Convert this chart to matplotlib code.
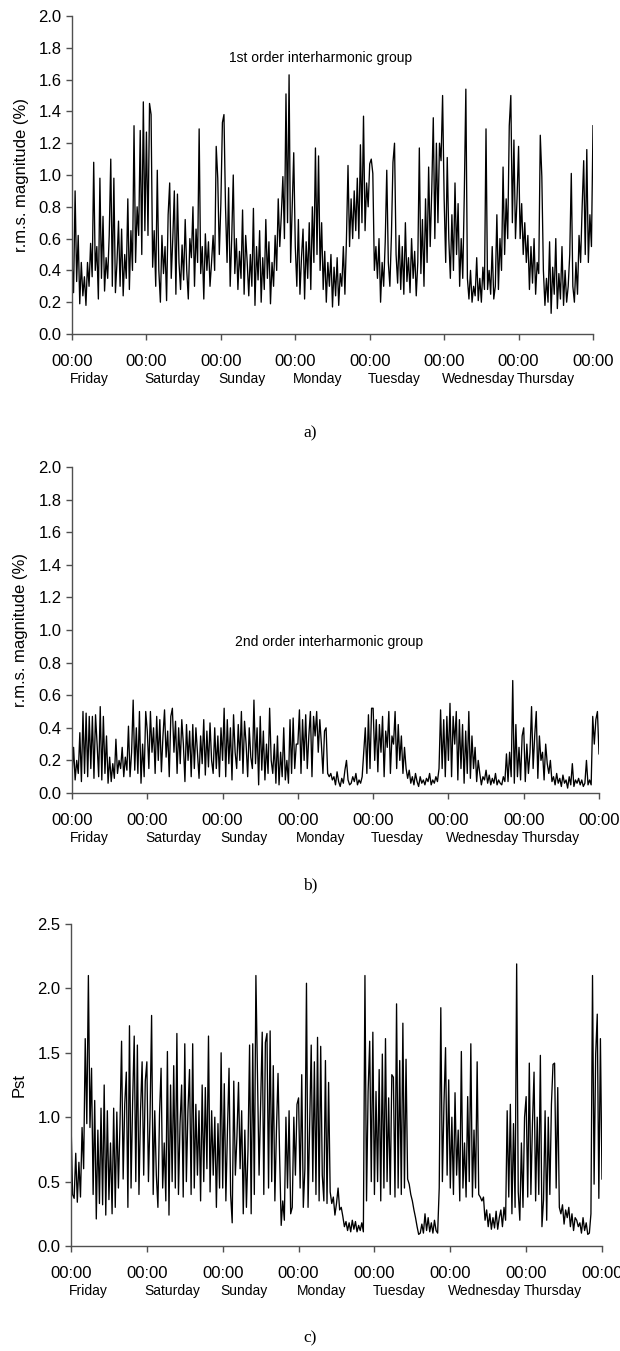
import numpy as np
import matplotlib
matplotlib.use("Agg")
import matplotlib.pyplot as plt

# ---------------- data ----------------
days = ["Friday", "Saturday", "Sunday", "Monday", "Tuesday", "Wednesday", "Thursday"]
tick_labels = ["00:00"] * 8

# 1st order interharmonic group, r.m.s. magnitude (%) (48 samples per day)
ih1 = [
    0.45, 0.26, 0.90, 0.33, 0.62, 0.19, 0.45, 0.24, 0.36, 0.18, 0.45, 0.30, 0.57, 0.36, 1.08, 0.40,
    0.55, 0.22, 0.98, 0.35, 0.74, 0.27, 0.48, 0.35, 0.62, 1.10, 0.30, 0.98, 0.26, 0.45, 0.71, 0.30,
    0.66, 0.24, 0.50, 0.35, 0.85, 0.28, 0.65, 0.40, 1.31, 0.45, 0.80, 0.62, 1.28, 0.50, 1.46, 0.65,
    1.27, 0.62, 1.45, 1.38, 0.42, 0.65, 0.30, 1.03, 0.40, 0.20, 0.62, 0.38, 0.55, 0.21, 0.75, 0.95,
    0.35, 0.60, 0.90, 0.25, 0.88, 0.45, 0.28, 0.56, 0.34, 0.72, 0.40, 0.22, 0.60, 0.48, 0.80, 0.30,
    0.66, 0.45, 1.29, 0.38, 0.55, 0.22, 0.63, 0.40, 0.58, 0.30, 0.45, 0.62, 0.40, 1.18, 0.98, 0.50,
    0.82, 1.33, 1.38, 0.80, 0.45, 0.92, 0.30, 0.60, 1.00, 0.38, 0.60, 0.28, 0.52, 0.35, 0.78, 0.25,
    0.62, 0.45, 0.24, 0.50, 0.30, 0.79, 0.18, 0.55, 0.34, 0.65, 0.20, 0.48, 0.28, 0.72, 0.35, 0.58,
    0.19, 0.45, 0.30, 0.62, 0.40, 0.85, 0.55, 0.75, 0.99, 0.60, 1.51, 0.70, 1.63, 0.45, 0.80, 1.14,
    0.55, 0.30, 0.72, 0.25, 0.48, 0.66, 0.22, 0.58, 0.35, 0.70, 0.28, 0.80, 0.45, 1.17, 0.50, 1.12,
    0.40, 0.70, 0.28, 0.52, 0.20, 0.45, 0.30, 0.50, 0.17, 0.42, 0.24, 0.48, 0.18, 0.38, 0.30, 0.55,
    0.25, 0.60, 1.06, 0.55, 0.85, 0.60, 0.90, 0.65, 0.98, 0.60, 1.19, 0.70, 1.37, 0.65, 0.95, 0.80,
    1.07, 1.10, 1.01, 0.40, 0.55, 0.35, 0.60, 0.20, 0.45, 0.30, 0.58, 1.03, 0.45, 0.30, 0.62, 1.08,
    1.20, 0.50, 0.32, 0.62, 0.28, 0.55, 0.25, 0.70, 0.33, 0.48, 0.26, 0.60, 0.35, 0.52, 0.24, 0.45,
    1.17, 0.38, 0.72, 0.30, 0.85, 0.45, 1.05, 0.55, 0.90, 1.36, 0.60, 1.20, 0.70, 1.20, 1.09, 1.50,
    0.85, 0.45, 1.11, 0.60, 0.35, 0.75, 0.40, 0.95, 0.50, 0.82, 0.30, 0.60, 0.35, 0.88, 1.54, 0.35,
    0.22, 0.40, 0.20, 0.30, 0.24, 0.48, 0.21, 0.35, 0.20, 0.42, 0.28, 1.29, 0.28, 0.40, 0.25, 0.55,
    0.22, 0.30, 0.75, 0.28, 0.60, 0.40, 1.05, 0.50, 0.85, 0.60, 1.31, 1.50, 0.70, 1.22, 0.60, 0.85,
    1.18, 0.60, 0.82, 0.50, 0.70, 0.45, 0.62, 0.28, 0.55, 0.32, 0.60, 0.25, 0.45, 0.38, 1.25, 0.99,
    0.40, 0.18, 0.35, 0.20, 0.58, 0.13, 0.42, 0.25, 0.60, 0.16, 0.38, 0.22, 0.55, 0.18, 0.40, 0.20,
    0.30, 0.50, 1.01, 0.30, 0.20, 0.45, 0.25, 0.62, 0.45, 0.80, 1.09, 0.50, 1.16, 0.45, 0.75, 0.55,
    1.31,
]

# 2nd order interharmonic group, r.m.s. magnitude (%) (48 samples per day)
ih2 = [
    0.10, 0.28, 0.08, 0.20, 0.12, 0.37, 0.07, 0.50, 0.12, 0.49, 0.10, 0.47, 0.15, 0.47, 0.09, 0.48,
    0.30, 0.10, 0.53, 0.08, 0.47, 0.12, 0.35, 0.06, 0.22, 0.07, 0.18, 0.09, 0.33, 0.12, 0.20, 0.15,
    0.28, 0.10, 0.22, 0.14, 0.41, 0.10, 0.25, 0.57, 0.14, 0.40, 0.12, 0.50, 0.06, 0.30, 0.10, 0.50,
    0.38, 0.15, 0.50, 0.25, 0.40, 0.12, 0.47, 0.20, 0.45, 0.13, 0.35, 0.51, 0.22, 0.38, 0.10, 0.47,
    0.52, 0.25, 0.44, 0.12, 0.40, 0.18, 0.45, 0.30, 0.07, 0.42, 0.20, 0.38, 0.10, 0.42, 0.15, 0.40,
    0.25, 0.09, 0.35, 0.18, 0.45, 0.11, 0.38, 0.16, 0.43, 0.20, 0.12, 0.40, 0.15, 0.35, 0.10, 0.40,
    0.20, 0.52, 0.10, 0.45, 0.18, 0.40, 0.08, 0.48, 0.25, 0.15, 0.42, 0.20, 0.50, 0.12, 0.44, 0.30,
    0.10, 0.40, 0.22, 0.15, 0.57, 0.18, 0.40, 0.05, 0.47, 0.14, 0.38, 0.08, 0.30, 0.12, 0.52, 0.20,
    0.12, 0.30, 0.06, 0.35, 0.05, 0.25, 0.10, 0.40, 0.08, 0.20, 0.06, 0.45, 0.12, 0.46, 0.15, 0.30,
    0.30, 0.51, 0.12, 0.45, 0.20, 0.48, 0.15, 0.35, 0.50, 0.10, 0.47, 0.35, 0.50, 0.25, 0.45, 0.30,
    0.12, 0.38, 0.40, 0.12, 0.10, 0.12, 0.08, 0.10, 0.05, 0.13, 0.07, 0.04, 0.09, 0.06, 0.14, 0.20,
    0.08, 0.05, 0.06, 0.10, 0.07, 0.12, 0.05, 0.08, 0.06, 0.10, 0.25, 0.40, 0.12, 0.48, 0.15, 0.52,
    0.52, 0.20, 0.45, 0.13, 0.42, 0.25, 0.47, 0.10, 0.38, 0.28, 0.50, 0.12, 0.35, 0.30, 0.50, 0.15,
    0.42, 0.20, 0.35, 0.12, 0.28, 0.15, 0.09, 0.14, 0.06, 0.10, 0.05, 0.12, 0.07, 0.04, 0.10, 0.06,
    0.08, 0.05, 0.09, 0.07, 0.12, 0.05, 0.08, 0.06, 0.10, 0.07, 0.15, 0.51, 0.15, 0.45, 0.10, 0.47,
    0.20, 0.55, 0.10, 0.47, 0.30, 0.50, 0.08, 0.45, 0.15, 0.42, 0.06, 0.38, 0.12, 0.50, 0.09, 0.35,
    0.15, 0.28, 0.07, 0.20, 0.12, 0.05, 0.10, 0.08, 0.14, 0.06, 0.11, 0.05, 0.09, 0.06, 0.12, 0.05,
    0.08, 0.06, 0.05, 0.10, 0.07, 0.24, 0.07, 0.25, 0.10, 0.69, 0.06, 0.42, 0.10, 0.28, 0.08, 0.35,
    0.40, 0.07, 0.30, 0.12, 0.25, 0.53, 0.15, 0.35, 0.50, 0.09, 0.35, 0.20, 0.25, 0.08, 0.30, 0.18,
    0.12, 0.20, 0.07, 0.10, 0.05, 0.12, 0.06, 0.09, 0.04, 0.11, 0.06, 0.08, 0.03, 0.10, 0.05, 0.18,
    0.04, 0.08, 0.06, 0.09, 0.05, 0.08, 0.04, 0.06, 0.20, 0.05, 0.08, 0.05, 0.47, 0.30, 0.45, 0.50,
    0.24,
]

# short-term flicker severity Pst (48 samples per day)
pst = [
    0.98, 0.40, 0.37, 0.72, 0.34, 0.65, 0.38, 0.92, 0.60, 1.61, 0.95, 2.10, 0.92, 1.38, 0.40, 1.13,
    0.21, 0.90, 0.33, 1.07, 0.32, 1.25, 0.24, 1.05, 0.36, 0.80, 0.25, 1.07, 0.30, 1.04, 0.45, 0.95,
    1.59, 0.52, 1.10, 1.35, 0.30, 1.71, 0.45, 1.12, 1.63, 0.50, 1.56, 0.40, 1.05, 1.43, 0.55, 1.28,
    1.43, 0.50, 1.00, 1.79, 0.40, 1.05, 0.55, 0.30, 1.02, 1.38, 0.45, 0.80, 0.35, 1.51, 0.24, 1.25,
    0.50, 1.40, 0.45, 1.65, 0.40, 0.95, 1.25, 0.38, 1.57, 0.50, 1.05, 1.37, 0.40, 1.57, 0.45, 1.10,
    0.55, 1.05, 0.35, 1.25, 0.50, 1.23, 0.60, 1.63, 0.42, 1.05, 0.55, 1.00, 0.30, 0.95, 0.45, 1.50,
    0.45, 1.26, 0.35, 0.90, 1.38, 0.40, 0.18, 1.28, 0.55, 0.85, 1.27, 0.60, 1.05, 0.25, 0.90, 0.30,
    0.75, 1.56, 0.25, 1.57, 0.40, 2.10, 1.33, 0.55, 1.10, 1.66, 0.40, 1.58, 1.65, 0.45, 1.67, 0.50,
    1.40, 0.35, 0.90, 1.34, 0.70, 0.16, 0.35, 0.20, 1.00, 0.45, 1.05, 0.25, 0.30, 1.00, 0.55, 1.10,
    1.15, 0.45, 1.33, 0.30, 0.60, 2.04, 0.30, 0.95, 1.56, 0.50, 1.43, 0.40, 1.62, 0.35, 1.55, 0.55,
    0.35, 1.44, 0.33, 1.27, 0.42, 0.33, 0.38, 0.24, 0.33, 0.45, 0.28, 0.30, 0.23, 0.15, 0.19, 0.12,
    0.18, 0.11, 0.20, 0.13, 0.19, 0.11, 0.16, 0.12, 0.18, 0.11, 2.10, 0.35, 1.20, 1.59, 0.50, 1.66,
    0.40, 1.20, 0.50, 1.37, 0.35, 1.49, 0.45, 1.61, 0.50, 1.15, 0.40, 1.33, 1.31, 0.38, 1.88, 0.45,
    1.44, 0.40, 1.73, 0.45, 1.45, 0.52, 0.48, 0.40, 0.35, 0.28, 0.22, 0.15, 0.09, 0.10, 0.17, 0.10,
    0.25, 0.12, 0.22, 0.11, 0.18, 0.10, 0.20, 0.12, 0.10, 0.45, 1.85, 0.50, 1.10, 1.54, 0.55, 1.29,
    0.45, 1.00, 0.40, 1.19, 0.55, 0.90, 0.35, 1.51, 0.45, 0.80, 0.38, 1.16, 0.50, 1.57, 0.38, 0.90,
    0.45, 1.43, 0.40, 0.38, 0.35, 0.38, 0.20, 0.28, 0.15, 0.25, 0.13, 0.22, 0.14, 0.27, 0.13, 0.22,
    0.28, 0.15, 0.30, 0.20, 1.05, 0.38, 1.10, 0.25, 0.95, 0.30, 2.19, 0.42, 0.20, 0.80, 0.30, 1.00,
    1.16, 0.38, 1.42, 0.40, 0.95, 1.35, 0.35, 1.00, 0.40, 1.48, 0.15, 0.36, 1.05, 0.20, 1.00, 0.40,
    1.10, 1.41, 1.42, 0.45, 1.23, 0.30, 0.25, 0.32, 0.17, 0.28, 0.22, 0.30, 0.15, 0.25, 0.12, 0.22,
    0.20, 0.15, 0.18, 0.10, 0.22, 0.12, 0.18, 0.09, 0.10, 0.25, 2.10, 0.48, 1.49, 1.80, 0.37, 1.61,
    0.52,
]

# ---------------- figure ----------------
plt.rcParams["font.family"] = ["Liberation Sans", "DejaVu Sans"]
W, H = 620, 1351
fig = plt.figure(figsize=(W / 100, H / 100), dpi=100)


def rect(l, r, t, b):
    return [l / W, 1 - b / H, (r - l) / W, (b - t) / H]


panels = [
    dict(y=ih1, rect=rect(72, 593, 16, 334), ymax=2.0, step=0.2,
         ylabel="r.m.s. magnitude (%)", ylab_x=-0.083, title="1st order interharmonic group",
         title_xy=(321, 58), cap="a)", cap_y=433),
    dict(y=ih2, rect=rect(72, 599, 467, 793), ymax=2.0, step=0.2,
         ylabel="r.m.s. magnitude (%)", ylab_x=-0.083, title="2nd order interharmonic group",
         title_xy=(329, 642), cap="b)", cap_y=885),
    dict(y=pst, rect=rect(71, 602, 924, 1246), ymax=2.5, step=0.5,
         ylabel="Pst", ylab_x=-0.084, title=None, title_xy=None, cap="c)", cap_y=1338),
]

spine_col = "#505050"
for p in panels:
    ax = fig.add_axes(p["rect"])
    y = np.asarray(p["y"])
    x = np.linspace(0, 7, len(y))
    ax.plot(x, y, color="black", lw=0.95)
    ax.set_xlim(0, 7)
    ax.set_ylim(0, p["ymax"])
    yt = np.arange(0, p["ymax"] + 1e-9, p["step"])
    ax.set_yticks(yt)
    ax.set_yticklabels([f"{v:.1f}" for v in yt])
    ax.set_xticks(range(8))
    ax.set_xticklabels(tick_labels)
    for s in ("top", "right"):
        ax.spines[s].set_visible(False)
    for s in ("left", "bottom"):
        ax.spines[s].set_color(spine_col)
        ax.spines[s].set_linewidth(1.0)
    ax.tick_params(axis="y", direction="out", length=4.5, width=1.0, color=spine_col,
                   labelsize=12, pad=3)
    ax.tick_params(axis="x", direction="out", length=4.5, width=1.0, color=spine_col,
                   labelsize=12, pad=10)
    ax.set_ylabel(p["ylabel"], fontsize=12)
    ax.yaxis.set_label_coords(p["ylab_x"], 0.5)
    for i, d in enumerate(days):
        ax.annotate(d, xy=(i, 0), xycoords=("data", "axes fraction"),
                    xytext=(-1.5, -32.5), textcoords="offset points",
                    ha="left", va="center", fontsize=10, annotation_clip=False)
    if p["title"]:
        fig.text(p["title_xy"][0] / W, 1 - p["title_xy"][1] / H, p["title"],
                 ha="center", va="center", fontsize=10)
    fig.text(0.5, 1 - p["cap_y"] / H, p["cap"], ha="center", va="center",
             fontsize=12.5, family=["Liberation Serif", "DejaVu Serif"])

fig.savefig("out.png", dpi=100)
